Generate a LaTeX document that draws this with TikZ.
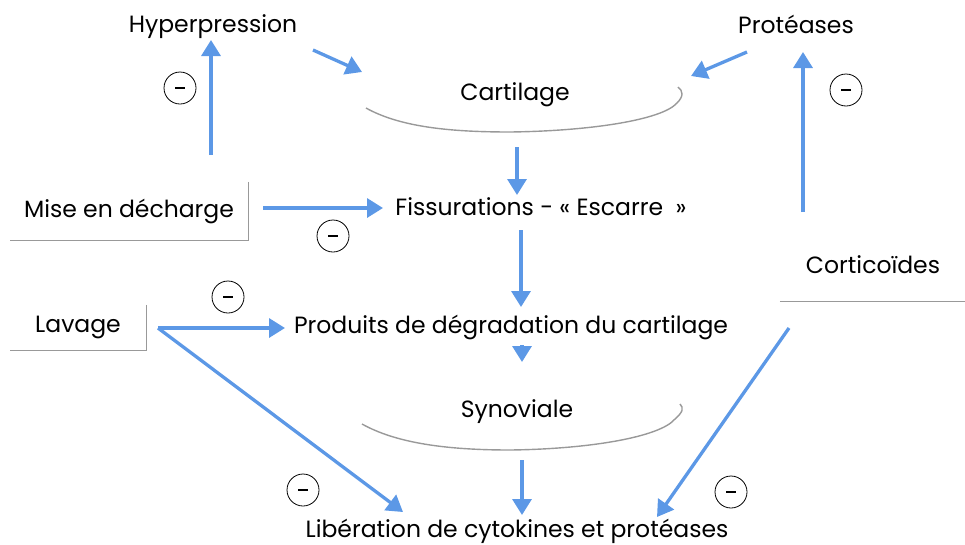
\documentclass[tikz,border=0pt]{standalone}
\usepackage{fontspec}
\setmainfont{Poppins}
\usetikzlibrary{arrows.meta, positioning}
\definecolor{flowblue}{RGB}{92,152,230}

\begin{document}
\begin{tikzpicture}[
    x = 1pt, y = -1pt,
    every node/.style = {font = \fontsize{23.5}{28}\selectfont},
    word/.style = {inner sep = 0pt, anchor = base},
    flow/.style = {draw = flowblue, line width = 3.3pt,
      -{Triangle[length = 16pt, width = 19pt]}},
    frame/.style = {draw = gray!80, line width = 1.4pt},
    minus/.style = {circle, draw, thick, minimum size = 32pt, inner sep = 0pt},
  ]
  \useasboundingbox (0,0) rectangle (965,544);

  % text of the flow
  \node [word] (hyper) at (213,32)  {Hyperpression};
  \node [word] (prot)  at (796,33)  {Protéases};
  \node [word] (cart)  at (515,100) {Cartilage};
  \node [word] (fiss)  at (541,215) {Fissurations - « Escarre\ \ »};
  \node [word] (prod)  at (511,333) {Produits de dégradation du cartilage};
  \node [word] (syn)   at (517,417) {Synoviale};
  \node [word] (lib)   at (517,537) {Libération de cytokines et protéases};

  % the three treatments, with their half frames
  \node [minimum width = 238pt, minimum height = 58pt, inner sep = 0pt]
    (mise) at (129,211) {Mise en décharge};
  \node [minimum width = 136pt, minimum height = 45pt, inner sep = 0pt]
    (lavage) at (78,327.5) {Lavage};
  \node [minimum width = 186pt, minimum height = 72pt, inner sep = 0pt]
    (cortico) at (873,265) {Corticoïdes};
  \draw [frame] (mise.north east) -- (mise.south east) -- (mise.south west);
  \draw [frame] (lavage.north east) -- (lavage.south east) -- (lavage.south west);
  \draw [frame] (cortico.south west) -- (cortico.south east);

  % the two cups
  \draw [frame] (366,108) .. controls (400,127) and (450,132) .. (510,132)
    .. controls (590,131) and (662,120) .. (677,103)
    .. controls (684,96) and (683,91) .. (678,87);
  \draw [frame] (362,424) .. controls (396,443) and (446,450) .. (510,450)
    .. controls (590,449) and (660,437) .. (675,419)
    .. controls (683,412) and (684,408) .. (680,404);

  % arrows
  \draw [flow] ([shift = {(82,-56)}]mise.center) -- ([shift = {(-2,8)}]hyper.base);
  \draw [flow] ([shift = {(100,18)}]hyper.base) -- ([shift = {(-153,-28)}]cart.base);
  \draw [flow] ([shift = {(-49,19)}]prot.base) -- ([shift = {(176,-24)}]cart.base);
  \draw [flow] ([shift = {(-70,-53)}]cortico.center) -- ([shift = {(7,19)}]prot.base);
  \draw [flow] ([shift = {(2,47)}]cart.base) -- ([shift = {(-24,-20)}]fiss.base);
  \draw [flow] ([shift = {(134,-3)}]mise.center) -- ([shift = {(-158,-7)}]fiss.base);
  \draw [flow] ([shift = {(-20,15)}]fiss.base) -- ([shift = {(10,-26)}]prod.base);
  \draw [flow] ([shift = {(80,0.5)}]lavage.center) -- ([shift = {(-226,-5)}]prod.base);
  \draw [flow] ([shift = {(80,0.5)}]lavage.center) -- ([shift = {(-114,-25)}]lib.base);
  \draw [flow] ([shift = {(11,12)}]prod.base) -- ([shift = {(5,-55)}]syn.base);
  \draw [flow] ([shift = {(5,43)}]syn.base) -- ([shift = {(5,-22)}]lib.base);
  \draw [flow] ([shift = {(-84,63)}]cortico.center) -- ([shift = {(140,-20)}]lib.base);

  % inhibitions
  \node [minus] (m1) at (180,88)  {\rule{10pt}{2.6pt}};
  \node [minus] (m2) at (333,236) {\rule{10pt}{2.6pt}};
  \node [minus] (m3) at (846,90)  {\rule{10pt}{2.6pt}};
  \node [minus] (m4) at (228,297) {\rule{10pt}{2.6pt}};
  \node [minus] (m5) at (303,490) {\rule{10pt}{2.6pt}};
  \node [minus] (m6) at (731,492) {\rule{10pt}{2.6pt}};
\end{tikzpicture}
\end{document}
